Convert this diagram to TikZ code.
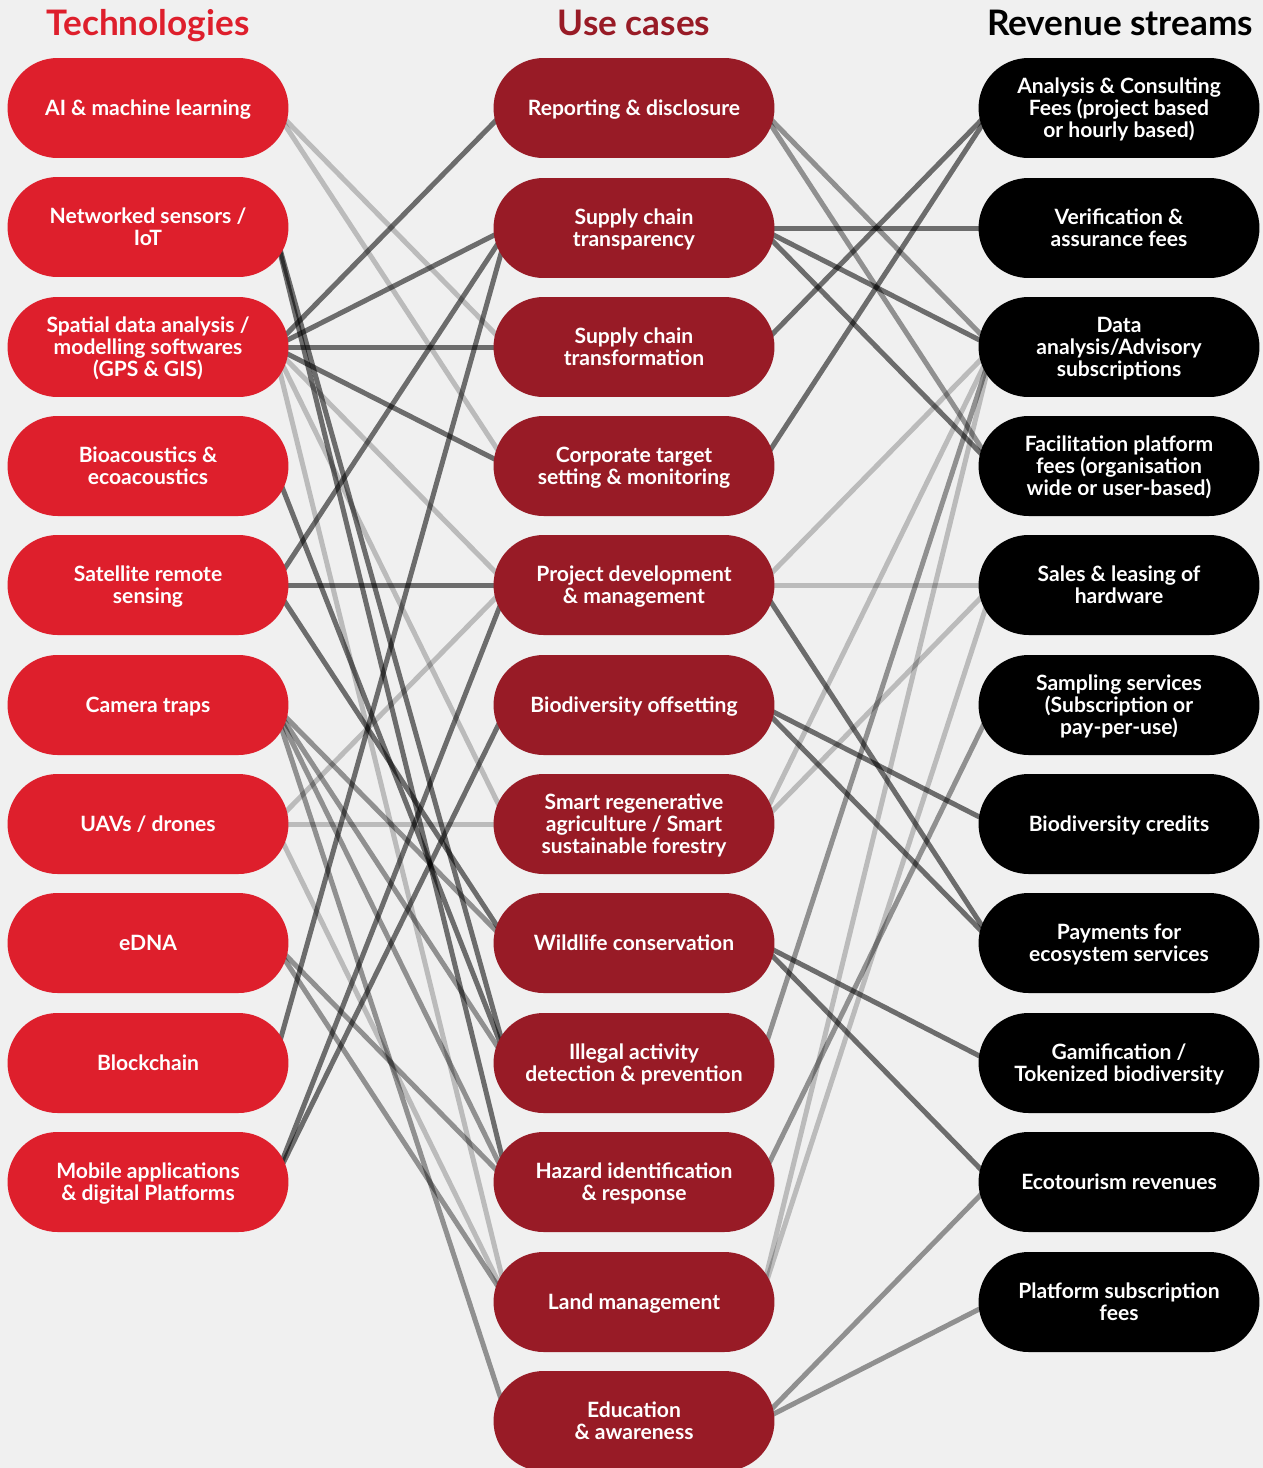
\documentclass[tikz,border=0pt]{standalone}
\usepackage{fontspec}
\setmainfont{Lato}
\usepackage{xcolor}
\usepackage{tikz}
\usetikzlibrary{
    positioning
}
\definecolor{techred}{HTML}{DE1F2C}
\definecolor{usered}{HTML}{981B26}
\definecolor{paper}{HTML}{F0F0F0}
\pgfdeclarelayer{background}
\pgfsetlayers{background,main}
\tikzstyle{pill} = [
    rounded corners=1cm,
    minimum width=5.62cm,
    minimum height=2cm,
    inner sep=0pt,
    text depth=0.6pt,
    align=center,
    text=white,
    font=\bfseries\fontsize{12}{12.5}\selectfont
]
\tikzstyle{tech} = [pill, fill=techred]
\tikzstyle{usecase} = [pill, fill=usered]
\tikzstyle{revenue} = [pill, fill=black]
\tikzstyle{heading} = [
    anchor=base,
    font=\bfseries\fontsize{20}{22}\selectfont
]
\tikzstyle{darkline} = [line width=0.1cm, draw=black, draw opacity=0.55]
\tikzstyle{midline} = [line width=0.1cm, draw=black, draw opacity=0.4]
\tikzstyle{lightline} = [line width=0.1cm, draw=black, draw opacity=0.22]
% connector between two pills, starting a little inside the rounded ends
\newcommand{\link}[3]{\draw[#1] ([xshift=-0.3cm]#2.east) -- ([xshift=0.3cm]#3.west);}

\begin{document}
\begin{tikzpicture}[x=0.02cm, y=-0.02cm]
\useasboundingbox (0,0) rectangle (1263,1468);

% headings
\node[heading, text=techred] (htech) at (148,35) {Technologies};
\node[heading, text=usered]  (huse)  at (634,35) {Use cases};
\node[heading, text=black]   (hrev)  at (1120,35) {Revenue streams};

% technologies
\node[tech] (ai)     at (148,108)  {AI \& machine learning};
\node[tech] (iot)    at (148,227)  {Networked sensors /\\IoT};
\node[tech] (gis)    at (148,347)  {Spatial data analysis /\\modelling softwares\\(GPS \& GIS)};
\node[tech] (bio)    at (148,466)  {Bioacoustics \&\\ecoacoustics};
\node[tech] (sat)    at (148,585)  {Satellite remote\\sensing};
\node[tech] (cam)    at (148,705)  {Camera traps};
\node[tech] (uav)    at (148,824)  {UAVs / drones};
\node[tech] (edna)   at (148,943)  {eDNA};
\node[tech] (chain)  at (148,1063) {Blockchain};
\node[tech] (mobile) at (148,1182) {Mobile applications\\\& digital Platforms};

% use cases
\node[usecase] (report)   at (634,108)  {Reporting \& disclosure};
\node[usecase] (sctrans)  at (634,228)  {Supply chain\\transparency};
\node[usecase] (scform)   at (634,347)  {Supply chain\\transformation};
\node[usecase] (target)   at (634,466)  {Corporate target\\setting \& monitoring};
\node[usecase] (project)  at (634,585)  {Project development\\\& management};
\node[usecase] (offset)   at (634,705)  {Biodiversity offsetting};
\node[usecase] (agri)     at (634,824)  {Smart regenerative\\agriculture / Smart\\sustainable forestry};
\node[usecase] (wildlife) at (634,943)  {Wildlife conservation};
\node[usecase] (illegal)  at (634,1063) {Illegal activity\\detection \& prevention};
\node[usecase] (hazard)   at (634,1182) {Hazard identification\\\& response};
\node[usecase] (land)     at (634,1302) {Land management};
\node[usecase] (edu)      at (634,1421) {Education\\\& awareness};

% revenue streams
\node[revenue] (consult)  at (1119,108)  {Analysis \& Consulting\\Fees (project based\\or hourly based)};
\node[revenue] (verify)   at (1119,228)  {Verification \&\\assurance fees};
\node[revenue] (data)     at (1119,347)  {Data\\analysis/Advisory\\subscriptions};
\node[revenue] (platform) at (1119,466)  {Facilitation platform\\fees (organisation\\wide or user-based)};
\node[revenue] (hardware) at (1119,585)  {Sales \& leasing of\\hardware};
\node[revenue] (sampling) at (1119,705)  {Sampling services\\(Subscription or\\pay-per-use)};
\node[revenue] (credits)  at (1119,824)  {Biodiversity credits};
\node[revenue] (pes)      at (1119,943)  {Payments for\\ecosystem services};
\node[revenue] (game)     at (1119,1063) {Gamification /\\Tokenized biodiversity};
\node[revenue] (tourism)  at (1119,1182) {Ecotourism revenues};
\node[revenue] (subscr)   at (1119,1302) {Platform subscription\\fees};

\begin{pgfonlayer}{background}
\fill[paper] (0,0) rectangle (1263,1468);

% technologies -> use cases
\link{lightline}{ai}{scform}
\link{lightline}{ai}{target}
\link{darkline}{iot}{illegal}
\link{darkline}{iot}{hazard}
\link{darkline}{gis}{report}
\link{darkline}{gis}{sctrans}
\link{darkline}{gis}{scform}
\link{darkline}{gis}{target}
\link{lightline}{gis}{project}
\link{lightline}{gis}{agri}
\link{lightline}{gis}{land}
\link{darkline}{bio}{illegal}
\link{darkline}{sat}{sctrans}
\link{darkline}{sat}{project}
\link{darkline}{sat}{wildlife}
\link{midline}{cam}{wildlife}
\link{midline}{cam}{illegal}
\link{midline}{cam}{hazard}
\link{midline}{cam}{edu}
\link{lightline}{uav}{project}
\link{lightline}{uav}{agri}
\link{lightline}{uav}{land}
\link{midline}{edna}{hazard}
\link{midline}{edna}{land}
\link{darkline}{chain}{sctrans}
\link{darkline}{mobile}{project}
\link{darkline}{mobile}{offset}

% use cases -> revenue streams
\link{midline}{report}{data}
\link{midline}{report}{platform}
\link{darkline}{sctrans}{verify}
\link{darkline}{sctrans}{data}
\link{darkline}{sctrans}{platform}
\link{darkline}{scform}{consult}
\link{darkline}{target}{consult}
\link{lightline}{project}{data}
\link{lightline}{project}{hardware}
\link{darkline}{project}{pes}
\link{darkline}{offset}{credits}
\link{darkline}{offset}{pes}
\link{lightline}{agri}{data}
\link{lightline}{agri}{hardware}
\link{darkline}{wildlife}{game}
\link{darkline}{wildlife}{tourism}
\link{midline}{illegal}{data}
\link{midline}{hazard}{sampling}
\link{lightline}{land}{data}
\link{lightline}{land}{hardware}
\link{midline}{edu}{tourism}
\link{midline}{edu}{subscr}
\end{pgfonlayer}
\end{tikzpicture}
\end{document}
